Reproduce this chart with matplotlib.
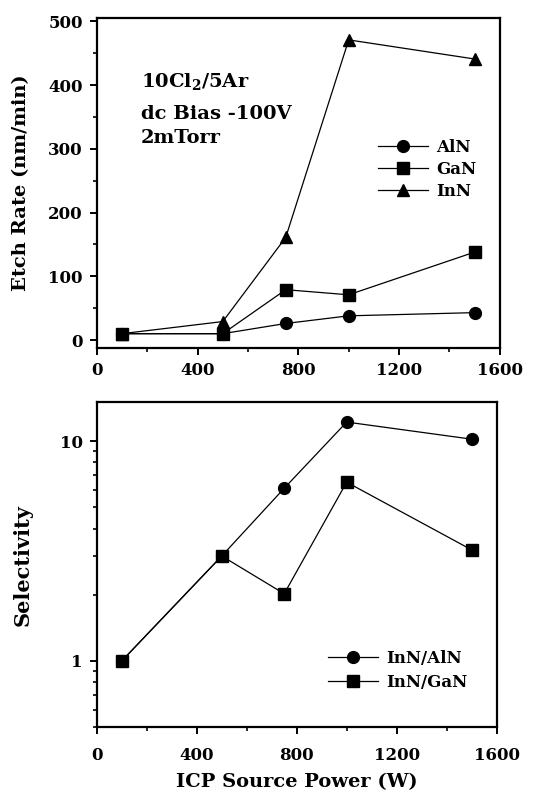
import numpy as np
import matplotlib
matplotlib.use('Agg')
import matplotlib.pyplot as plt
from matplotlib.ticker import MultipleLocator, LogLocator, NullFormatter, FixedLocator, FixedFormatter

# ICP source power (W)
power = [100, 500, 750, 1000, 1500]

# etch rates (nm/min)
aln = [10, 10, 26, 38, 43]
gan = [10, 10, 79, 71, 138]
inn = [10, 29, 161, 471, 441]

# selectivity
inn_aln = [1.0, 3.0, 6.1, 12.2, 10.2]
inn_gan = [1.0, 3.0, 2.02, 6.5, 3.2]

plt.rcParams['font.family'] = 'DejaVu Serif'
plt.rcParams['font.weight'] = 'bold'
plt.rcParams['mathtext.fontset'] = 'dejavuserif'
plt.rcParams['axes.linewidth'] = 1.6

fig = plt.figure(figsize=(5.38, 7.92), dpi=100)
ax1 = fig.add_axes([0.180, 0.561, 0.749, 0.416])
ax2 = fig.add_axes([0.180, 0.082, 0.743, 0.410])

mk = dict(color='black', lw=0.9, ms=8.5)

# top panel
ax1.plot(power, aln, marker='o', label='AlN', **mk)
ax1.plot(power, gan, marker='s', label='GaN', **mk)
ax1.plot(power, inn, marker='^', label='InN', **mk)
ax1.set_xlim(0, 1600)
ax1.set_ylim(-12, 505)
ax1.xaxis.set_major_locator(MultipleLocator(400))
ax1.xaxis.set_minor_locator(MultipleLocator(200))
ax1.yaxis.set_major_locator(MultipleLocator(100))
ax1.yaxis.set_minor_locator(MultipleLocator(50))
ax1.set_ylabel('Etch Rate (nm/min)', fontsize=14, fontweight='bold')
ax1.yaxis.set_label_coords(-0.165, 0.5)
ax1.text(176, 406, '10Cl$_\\mathbf{2}$/5Ar', fontsize=14, fontweight='bold', va='center')
ax1.text(176, 355, 'dc Bias -100V', fontsize=14, fontweight='bold', va='center')
ax1.text(176, 317, '2mTorr', fontsize=14, fontweight='bold', va='center')
ax1.legend(loc='upper left', bbox_to_anchor=(0.66, 0.68), frameon=False,
           fontsize=12, handlelength=3.0, handletextpad=0.5, labelspacing=0.3)

# bottom panel
ax2.plot(power, inn_aln, marker='o', label='InN/AlN', **mk)
ax2.plot(power, inn_gan, marker='s', label='InN/GaN', **mk)
ax2.set_yscale('log')
ax2.set_xlim(0, 1600)
ax2.set_ylim(0.5, 15)
ax2.xaxis.set_major_locator(MultipleLocator(400))
ax2.xaxis.set_minor_locator(MultipleLocator(200))
ax2.yaxis.set_major_locator(FixedLocator([1, 10]))
ax2.yaxis.set_major_formatter(FixedFormatter(['1', '10']))
ax2.yaxis.set_minor_locator(LogLocator(base=10, subs=np.arange(2, 10)))
ax2.yaxis.set_minor_formatter(NullFormatter())
ax2.set_ylabel('Selectivity', fontsize=15, fontweight='bold')
ax2.yaxis.set_label_coords(-0.16, 0.5)
ax2.set_xlabel('ICP Source Power (W)', fontsize=14, fontweight='bold', labelpad=7)
ax2.legend(loc='upper left', bbox_to_anchor=(0.54, 0.285), frameon=False,
           fontsize=12, handlelength=3.0, handletextpad=0.5, labelspacing=0.45)

for ax in (ax1, ax2):
    ax.tick_params(which='major', direction='out', length=5, width=1.4, labelsize=12, pad=5)
    ax.tick_params(which='minor', direction='out', length=3, width=1.2)
    for lab in ax.get_xticklabels() + ax.get_yticklabels():
        lab.set_fontweight('bold')
ax2.tick_params(axis='x', which='major', pad=9)

fig.savefig('out.png', dpi=100)
